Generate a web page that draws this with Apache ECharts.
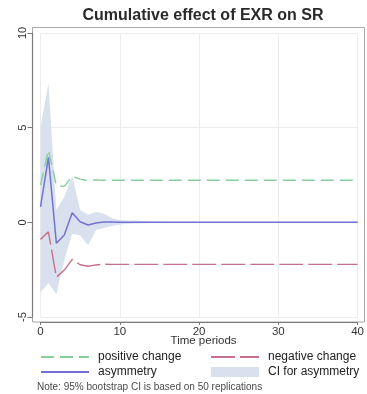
<!DOCTYPE html>
<html>
<head>
<meta charset="utf-8">
<script src="https://cdn.jsdelivr.net/npm/echarts@6/dist/echarts.min.js"></script>
<style>
  html, body { margin: 0; padding: 0; background: #fff; }
  #chart { width: 367px; height: 394px; }
</style>
</head>
<body>
<div id="chart"></div>
<script>
// Time periods after the shock
const periods = ['0','1','2','3','4','5','6','7','8','9','10','11','12','13','14','15','16','17','18','19','20',
                 '21','22','23','24','25','26','27','28','29','30','31','32','33','34','35','36','37','38','39','40'];

// Cumulative multipliers
const positiveChange = [1.97, 3.82, 1.95, 1.90, 2.42, 2.28, 2.20, 2.24, 2.22, 2.22, 2.22,
  2.22, 2.22, 2.22, 2.22, 2.22, 2.22, 2.22, 2.22, 2.22, 2.22,
  2.22, 2.22, 2.22, 2.22, 2.22, 2.22, 2.22, 2.22, 2.22, 2.22,
  2.22, 2.22, 2.22, 2.22, 2.22, 2.22, 2.22, 2.22, 2.22, 2.22];
const negativeChange = [-0.90, -0.50, -2.90, -2.52, -1.96, -2.24, -2.32, -2.25, -2.21, -2.22, -2.22,
  -2.22, -2.22, -2.22, -2.22, -2.22, -2.22, -2.22, -2.22, -2.22, -2.22,
  -2.22, -2.22, -2.22, -2.22, -2.22, -2.22, -2.22, -2.22, -2.22, -2.22,
  -2.22, -2.22, -2.22, -2.22, -2.22, -2.22, -2.22, -2.22, -2.22, -2.22];
const asymmetry = [0.82, 3.43, -1.10, -0.67, 0.50, 0.03, -0.14, -0.03, 0.02, 0.02, 0.00,
  0.00, 0.00, 0.00, 0.00, 0.00, 0.00, 0.00, 0.00, 0.00, 0.00,
  0.00, 0.00, 0.00, 0.00, 0.00, 0.00, 0.00, 0.00, 0.00, 0.00,
  0.00, 0.00, 0.00, 0.00, 0.00, 0.00, 0.00, 0.00, 0.00, 0.00];

// 95% bootstrap confidence band for the asymmetry
const ciUpper = [5.00, 7.35, 0.65, 1.35, 2.45, 0.65, 0.40, 0.55, 0.45, 0.22, 0.12,
  0.08, 0.10, 0.07, 0.05, 0.04, 0.03, 0.03, 0.03, 0.03, 0.03,
  0.03, 0.03, 0.03, 0.03, 0.03, 0.03, 0.03, 0.03, 0.03, 0.03,
  0.03, 0.03, 0.03, 0.03, 0.03, 0.03, 0.03, 0.03, 0.03, 0.03];
const ciLower = [-3.70, -3.20, -3.80, -2.00, -0.60, -0.70, -1.20, -0.42, -0.30, -0.20, -0.12,
  -0.08, -0.06, -0.05, -0.04, -0.03, -0.03, -0.03, -0.03, -0.03, -0.03,
  -0.03, -0.03, -0.03, -0.03, -0.03, -0.03, -0.03, -0.03, -0.03, -0.03,
  -0.03, -0.03, -0.03, -0.03, -0.03, -0.03, -0.03, -0.03, -0.03, -0.03];

const FONT = 'Liberation Sans, Arial, sans-serif';
const C_POS = '#86cf9b';
const C_NEG = '#c8708a';
const C_ASY = '#7272d2';
const C_CI = '#d9e1ee';

// band drawn as lower bound plus stacked width
const ciWidth = ciUpper.map((u, i) => u - ciLower[i]);
const everyTenth = idx => idx % 10 === 0;
// legend keys for lines: the line only, no marker
const lineKey = name => ({ name: name, itemStyle: { opacity: 0 } });

const chart = echarts.init(document.getElementById('chart'), null, { renderer: 'canvas' });

chart.setOption({
  animation: false,
  backgroundColor: '#fff',
  textStyle: { fontFamily: FONT },
  title: [{
    text: 'Cumulative effect of EXR on SR',
    left: 198, top: 3, textAlign: 'center',
    textStyle: { fontFamily: FONT, fontSize: 16, fontWeight: 'bold', color: '#2a2a2a' }
  }, {
    text: 'Note: 95% bootstrap CI is based on 50 replications',
    left: 32, top: 377,
    textStyle: { fontFamily: FONT, fontSize: 10, fontWeight: 'normal', color: '#4a4a4a' }
  }],
  grid: { left: 40.5, right: 2, top: 33, bottom: 77, containLabel: false },
  xAxis: {
    type: 'category', data: periods, boundaryGap: false,
    offset: 5,
    name: 'Time periods', nameLocation: 'middle', nameGap: 13,
    nameMoveOverlap: false,
    nameTextStyle: { fontFamily: FONT, fontSize: 11.5, color: '#333', padding: [0, 0, 0, 9] },
    axisLine: { show: true, onZero: false, lineStyle: { color: '#7a7a7a', width: 1.2 } },
    axisTick: { show: true, length: 3, interval: everyTenth, lineStyle: { color: '#7a7a7a' } },
    axisLabel: { fontFamily: FONT, fontSize: 11.5, color: '#333', margin: 4, interval: everyTenth },
    splitLine: { show: true, interval: everyTenth, lineStyle: { color: '#ececec', width: 1 } }
  },
  yAxis: {
    type: 'value', min: -5, max: 10, interval: 5,
    offset: 8,
    axisLine: { show: true, onZero: false, lineStyle: { color: '#7a7a7a', width: 1.2 } },
    axisTick: { show: true, length: 5, lineStyle: { color: '#7a7a7a' } },
    axisLabel: { fontFamily: FONT, fontSize: 11, color: '#333', rotate: 90, margin: 4 },
    splitLine: { show: true, lineStyle: { color: '#ececec', width: 1 } }
  },
  legend: [{
    data: [lineKey('positive change'), lineKey('asymmetry')],
    orient: 'vertical', left: 40, top: 351, padding: 0,
    itemWidth: 48, itemHeight: 10, itemGap: 3,
    textStyle: { fontFamily: FONT, fontSize: 12, color: '#222', padding: [0, 0, 0, 4] }
  }, {
    data: [
      lineKey('negative change'),
      { name: 'CI for asymmetry', icon: 'rect', itemStyle: { color: C_CI } }
    ],
    orient: 'vertical', left: 210, top: 351, padding: 0,
    itemWidth: 48, itemHeight: 10, itemGap: 3,
    textStyle: { fontFamily: FONT, fontSize: 12, color: '#222', padding: [0, 0, 0, 4] }
  }],
  graphic: [{
    type: 'rect', z: 0, silent: true,
    shape: { x: 32.5, y: 27.5, width: 332, height: 294.5 },
    style: { fill: 'none', stroke: '#a8a8a8', lineWidth: 1 }
  }],
  series: [{
    name: 'ciLower', type: 'line', data: ciLower,
    stack: 'ci', stackStrategy: 'all',
    symbol: 'none', lineStyle: { opacity: 0 }, silent: true, z: 1
  }, {
    name: 'CI for asymmetry', type: 'line', data: ciWidth,
    stack: 'ci', stackStrategy: 'all',
    symbol: 'none', lineStyle: { opacity: 0 },
    itemStyle: { color: C_CI },
    areaStyle: { color: C_CI, opacity: 1 }, silent: true, z: 1
  }, {
    name: 'positive change', type: 'line', data: positiveChange,
    symbol: 'none', itemStyle: { color: C_POS },
    lineStyle: { color: C_POS, width: 1.4, type: [13, 6] }, z: 3
  }, {
    name: 'negative change', type: 'line', data: negativeChange,
    symbol: 'none', itemStyle: { color: C_NEG },
    lineStyle: { color: C_NEG, width: 1.4, type: [24, 5] }, z: 3
  }, {
    name: 'asymmetry', type: 'line', data: asymmetry,
    symbol: 'none', itemStyle: { color: C_ASY },
    lineStyle: { color: C_ASY, width: 1.5 }, z: 4
  }]
});
</script>
</body>
</html>
